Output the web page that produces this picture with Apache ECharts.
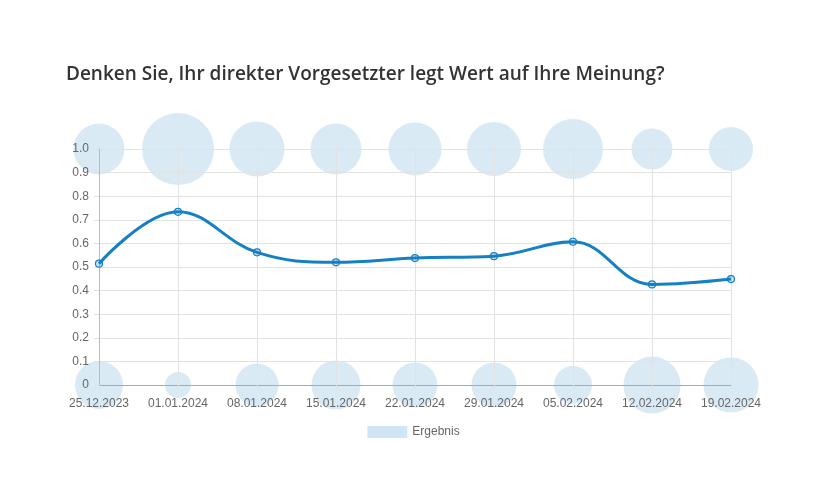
<!DOCTYPE html>
<html>
<head>
<meta charset="utf-8">
<script src="https://cdn.jsdelivr.net/npm/echarts@6/dist/echarts.min.js"></script>
<style>
html,body{margin:0;padding:0;background:#fff;}
#c{width:827px;height:504px;}
</style>
</head>
<body>
<div id="c"></div>
<script>
const categories = ['25.12.2023','01.01.2024','08.01.2024','15.01.2024','22.01.2024','29.01.2024','05.02.2024','12.02.2024','19.02.2024'];
const ergebnis = [0.514, 0.734, 0.562, 0.52, 0.538, 0.546, 0.607, 0.426, 0.449];
// bubble radii (Chart.js style r values) for answers "yes" (1.0) and "no" (0)
const yesRadius = [25.5, 36, 27.5, 25.5, 26.5, 27, 30, 20.5, 22];
const noRadius = [24, 13, 21.5, 24.5, 22.5, 22.5, 19, 28.5, 27.5];
const yTicks = [0, 0.1, 0.2, 0.3, 0.4, 0.5, 0.6, 0.7, 0.8, 0.9, 1.0];

const bubbleColor = 'rgba(20,125,195,0.2)';
const lineColor = '#1580c4';

const chart = echarts.init(document.getElementById('c'), null, {renderer:'canvas'});
chart.setOption({
  animation: false,
  title: {
    text: 'Denken Sie, Ihr direkter Vorgesetzter legt Wert auf Ihre Meinung?',
    left: 66, top: 65, padding: 0,
    textStyle: {fontFamily:'Open Sans', fontWeight:600, fontSize:19, color:'#333'}
  },
  legend: {
    bottom: 61, left: 'center',
    itemWidth: 40, itemHeight: 12, itemGap: 8,
    data: [{name:'Ergebnis', icon:'rect', itemStyle:{color:bubbleColor, borderWidth:0}}],
    textStyle: {fontFamily:'Liberation Sans', fontSize:12, color:'#666'}
  },
  grid: {left: 99, right: 96, top: 149, bottom: 119},
  xAxis: {
    type: 'category', data: categories, boundaryGap: false, z: 3,
    axisLine: {lineStyle:{color:'#aaa'}},
    axisTick: {show:true, length:4, lineStyle:{color:'#e2e2e2'}},
    splitLine: {show:true, lineStyle:{color:'#e2e2e2'}},
    axisLabel: {margin:13, fontFamily:'Liberation Sans', fontSize:12, color:'#666'}
  },
  yAxis: {
    type: 'value', min: 0, max: 1, interval: 0.1, z: 3,
    axisLine: {show:true, lineStyle:{color:'#bbb'}},
    axisTick: {show:true, length:5, lineStyle:{color:'#e2e2e2'}},
    splitLine: {show:true, lineStyle:{color:'#e2e2e2'}},
    axisLabel: {
      margin: 10, fontFamily:'Liberation Sans', fontSize:12, color:'#666',
      formatter: v => v === 0 ? '0' : v.toFixed(1)
    }
  },
  series: [
    {
      type:'scatter', name:'ja', clip:false, z:1,
      data: categories.map((c,i)=>[c, 1, yesRadius[i]]),
      symbolSize: d => d[2]*2,
      itemStyle: {color: bubbleColor}
    },
    {
      type:'scatter', name:'nein', clip:false, z:1,
      data: categories.map((c,i)=>[c, 0, noRadius[i]]),
      symbolSize: d => d[2]*2,
      itemStyle: {color: bubbleColor}
    },
    {
      type:'line', name:'Ergebnis', data: ergebnis, smooth:0.4, clip:false, z:5,
      symbol:'circle', symbolSize:7, showAllSymbol:true,
      lineStyle:{color:lineColor, width:3},
      itemStyle:{color:bubbleColor, borderColor:lineColor, borderWidth:1.2}
    }
  ]
});
</script>
</body>
</html>
